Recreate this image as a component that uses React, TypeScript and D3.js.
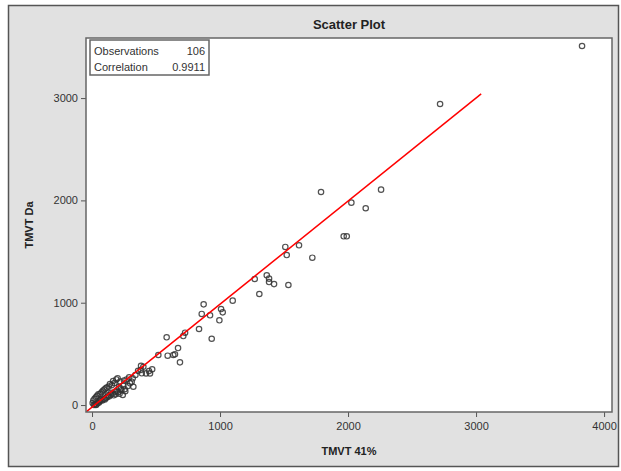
import React, { useEffect, useRef } from 'react';
import * as d3 from 'd3';

// TMVT 41% (x) vs TMVT Da (y)
const xValues = [
  3828, 2719, 1789, 2258, 2026, 2138, 1966, 1990, 1510, 1617, 1521, 1721, 1271, 1365, 1383, 1383,
  1422, 1534, 1307, 872, 1099, 1008, 1021, 857, 922, 995, 583, 727, 713, 836, 935, 518, 672, 591,
  635, 648, 687, 5, 10, 15, 20, 25, 30, 35, 40, 45, 50, 55, 60, 65, 70, 75, 80, 85, 90, 95, 100,
  105, 110, 115, 120, 125, 130, 135, 140, 145, 150, 155, 160, 165, 170, 175, 180, 185, 190, 195,
  200, 205, 210, 215, 220, 225, 230, 240, 245, 250, 255, 260, 270, 280, 290, 297, 310, 318, 323,
  339, 360, 380, 383, 401, 389, 422, 453, 445, 470, 30,
];
const yValues = [
  3509, 2942, 2082, 2105, 1978, 1923, 1649, 1649, 1545, 1561, 1466, 1440, 1232, 1268, 1235, 1202,
  1182, 1173, 1085, 984, 1020, 938, 906, 890, 877, 828, 662, 707, 674, 743, 648, 489, 557, 482,
  489, 496, 417, 20, 45, 0, 60, 10, 75, 5, 90, 20, 105, 25, 40, 110, 50, 125, 45, 140, 60, 150, 55,
  160, 70, 170, 80, 95, 180, 85, 205, 100, 120, 195, 110, 235, 95, 215, 130, 105, 250, 140,
  261, 125, 175, 110, 230, 160, 145, 98, 190, 240, 155, 135, 250, 185, 270, 212, 228, 261, 179,
  293, 335, 342, 384, 374, 310, 309, 309, 332, 350, 0,
];
const xTicks = [0, 1000, 2000, 3000, 4000];
const yTicks = [0, 1000, 2000, 3000];
const statLabels = ['Observations', 'Correlation'];
const statValues = ['106', '0.9911'];
// fitted line: y = intercept + slope * x, drawn up to fitEnd
const slope = 1.007;
const intercept = -21;
const fitEnd = 3040;

function App() {
  const chartRef = useRef<HTMLDivElement>(null);

  useEffect(() => {
    const W = 621;
    const H = 471;
    const plot = { left: 86, top: 38, right: 612, bottom: 412 };
    const font = 'Arial, "Liberation Sans", sans-serif';

    d3.select(chartRef.current).select('svg').remove();

    const svg = d3
      .select(chartRef.current)
      .append('svg')
      .attr('width', W)
      .attr('height', H)
      .style('position', 'absolute')
      .style('left', 0)
      .style('top', 0)
      .style('font-family', font);

    // outer grey panel
    svg.append('rect')
      .attr('x', 8.5).attr('y', 5.5)
      .attr('width', 610).attr('height', 461)
      .attr('fill', '#e1e1e1')
      .attr('stroke', '#555')
      .attr('stroke-width', 1.5);

    const x = d3.scaleLinear().domain([-47, 4062]).range([plot.left, plot.right]);
    const y = d3.scaleLinear().domain([-68, 3587]).range([plot.bottom, plot.top]);

    // plot area
    svg.append('rect')
      .attr('x', plot.left).attr('y', plot.top)
      .attr('width', plot.right - plot.left).attr('height', plot.bottom - plot.top)
      .attr('fill', '#fff');

    svg.append('clipPath').attr('id', 'plotClip')
      .append('rect')
      .attr('x', plot.left).attr('y', plot.top)
      .attr('width', plot.right - plot.left).attr('height', plot.bottom - plot.top);

    // axes
    const xAxis = svg.append('g')
      .attr('transform', `translate(0,${plot.bottom})`)
      .call(d3.axisBottom(x).tickValues(xTicks).tickSize(5).tickSizeOuter(0).tickPadding(5).tickFormat(d3.format('d')));
    const yAxis = svg.append('g')
      .attr('transform', `translate(${plot.left},0)`)
      .call(d3.axisLeft(y).tickValues(yTicks).tickSize(5).tickSizeOuter(0).tickPadding(3).tickFormat(d3.format('d')));
    [xAxis, yAxis].forEach((g) => {
      g.select('.domain').remove();
      g.selectAll('line').attr('stroke', '#555');
      g.selectAll('text').attr('fill', '#333').style('font-size', '11px').style('font-family', font);
    });

    // points
    const pts = svg.append('g').attr('clip-path', 'url(#plotClip)');
    pts.selectAll('circle')
      .data(xValues.map((v, i) => [v, yValues[i]]))
      .enter()
      .append('circle')
      .attr('cx', (d) => x(d[0]))
      .attr('cy', (d) => y(d[1]))
      .attr('r', 2.7)
      .attr('fill', 'none')
      .attr('stroke', '#333')
      .attr('stroke-opacity', 0.85)
      .attr('stroke-width', 1.2);

    // regression line
    const fitLine = d3.line<number>()
      .x((d) => x(d))
      .y((d) => y(intercept + slope * d));
    pts.append('path')
      .datum([-80, fitEnd])
      .attr('fill', 'none')
      .attr('stroke', '#f00')
      .attr('stroke-width', 1.5)
      .attr('d', fitLine);

    // plot border
    svg.append('rect')
      .attr('x', plot.left).attr('y', plot.top)
      .attr('width', plot.right - plot.left).attr('height', plot.bottom - plot.top)
      .attr('fill', 'none')
      .attr('stroke', '#666')
      .attr('stroke-width', 1.5);

    // stats box
    const legend = svg.append('g').attr('transform', 'translate(90,40)');
    legend.append('rect')
      .attr('x', 0).attr('y', 0)
      .attr('width', 119).attr('height', 35)
      .attr('fill', '#fff')
      .attr('stroke', '#666')
      .attr('stroke-width', 1.5);
    statLabels.forEach((s, i) => {
      legend.append('text')
        .attr('x', 4).attr('y', 15 + i * 16)
        .style('font-size', '11px').attr('fill', '#333')
        .text(s);
      legend.append('text')
        .attr('x', 115).attr('y', 15 + i * 16)
        .attr('text-anchor', 'end')
        .style('font-size', '11px').attr('fill', '#333')
        .text(statValues[i]);
    });

    // titles
    svg.append('text')
      .attr('x', (plot.left + plot.right) / 2).attr('y', 29)
      .attr('text-anchor', 'middle')
      .style('font-size', '13px').style('font-weight', 'bold')
      .attr('fill', '#222')
      .text('Scatter Plot');

    svg.append('text')
      .attr('x', (plot.left + plot.right) / 2).attr('y', 455)
      .attr('text-anchor', 'middle')
      .style('font-size', '11px').style('font-weight', 'bold')
      .attr('fill', '#222')
      .text('TMVT 41%');

    svg.append('text')
      .attr('transform', `translate(33,${(plot.top + plot.bottom) / 2}) rotate(-90)`)
      .attr('text-anchor', 'middle')
      .style('font-size', '11px').style('font-weight', 'bold')
      .attr('fill', '#222')
      .text('TMVT Da');
  }, []);

  return <div ref={chartRef}></div>;
}

export default App;
